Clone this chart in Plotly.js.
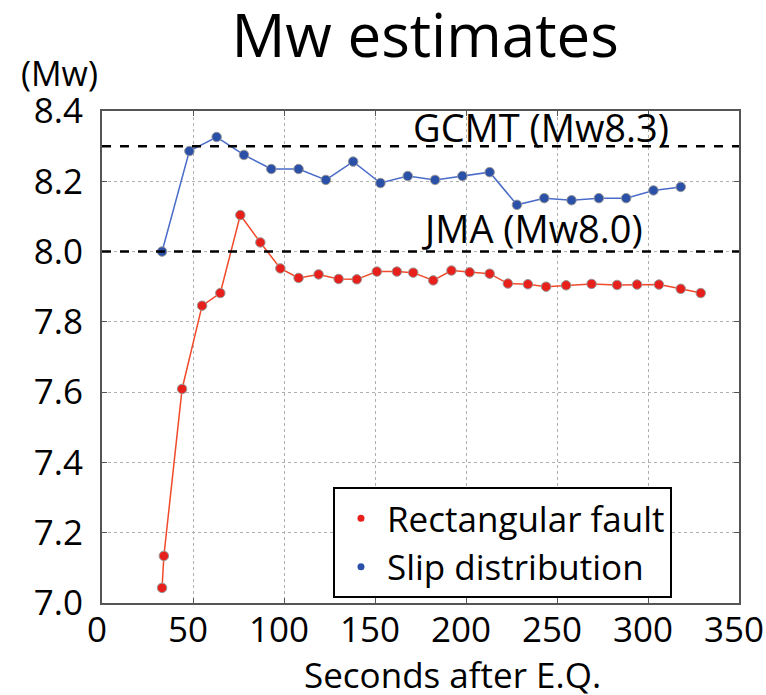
<!DOCTYPE html>
<html>
<head>
<meta charset="utf-8">
<script src="https://cdn.plot.ly/plotly-3.0.1.min.js"></script>
<style>html,body{margin:0;padding:0;background:#fff;}#chart{width:766px;height:695px;}</style>
</head>
<body>
<div id="chart"></div>
<script>
// Data
const rectSeconds = [33,34,44,55,65,76,87,98,108,119,130,140,151,162,171,182,192,202,213,223,234,244,255,269,283,294,306,318,329];
const rectMw = [7.043,7.134,7.609,7.846,7.882,8.104,8.026,7.952,7.925,7.935,7.922,7.921,7.943,7.943,7.940,7.918,7.946,7.941,7.937,7.909,7.907,7.900,7.904,7.908,7.905,7.906,7.906,7.894,7.882];
const slipSeconds = [33,48,63,78,93,108,123,138,153,168,183,198,213,228,243,258,273,288,303,318];
const slipMw = [8.000,8.286,8.326,8.275,8.235,8.235,8.204,8.256,8.195,8.215,8.204,8.215,8.226,8.133,8.152,8.146,8.152,8.152,8.174,8.184];
const refNames = ["GCMT (Mw8.3)", "JMA (Mw8.0)"];
const refValues = [8.3, 8.0];
const refLabelX = [241, 236];
const xTicks = [0,50,100,150,200,250,300,350];
const yTicks = [7.0,7.2,7.4,7.6,7.8,8.0,8.2,8.4];
const seriesNames = ["Rectangular fault", "Slip distribution"];
const xTitle = "Seconds after E.Q.";
const yUnit = "(Mw)";

const FONT = "Open Sans, Noto Sans, sans-serif";
const red = "#e8201c", redLine = "#f04a2a", blue = "#2a50a8", blueLine = "#4a6cc8";

const traces = [
  {x: rectSeconds, y: rectMw, mode: "lines+markers", showlegend: false, hoverinfo: "skip",
   line: {color: redLine, width: 1.5},
   marker: {color: red, size: 9.5, line: {color: "#999", width: 1}}},
  {x: slipSeconds, y: slipMw, mode: "lines+markers", showlegend: false, hoverinfo: "skip",
   line: {color: blueLine, width: 1.5},
   marker: {color: blue, size: 9.5, line: {color: "#999", width: 1}}},
  {x: [null], y: [null], mode: "markers", name: seriesNames[0], showlegend: true,
   marker: {color: red, size: 7}},
  {x: [null], y: [null], mode: "markers", name: seriesNames[1], showlegend: true,
   marker: {color: blue, size: 7}}
];

const shapes = refValues.map(v => ({type: "line", xref: "paper", x0: 0, x1: 1, yref: "y", y0: v, y1: v,
  line: {color: "#000", width: 2.5, dash: "dash"}}));

const annotations = refValues.map((v, i) => ({x: refLabelX[i], y: v, xref: "x", yref: "y",
  text: refNames[i], showarrow: false, xanchor: "center", yanchor: "middle",
  yshift: i === 0 ? 19 : 24, font: {family: FONT, size: 38, color: "#000"}}));
annotations.push({xref: "paper", yref: "paper", x: -0.066, y: 1.078,
  text: yUnit, showarrow: false, xanchor: "center", yanchor: "middle",
  font: {family: FONT, size: 34, color: "#000"}});
annotations.push({xref: "paper", yref: "paper", x: 0.5495, y: -0.146, text: xTitle, showarrow: false,
  xanchor: "center", yanchor: "middle", font: {family: FONT, size: 35, color: "#000"}});

const layout = {
  width: 766, height: 695,
  margin: {l: 102, r: 27, t: 111, b: 92, pad: 0},
  paper_bgcolor: "#fff", plot_bgcolor: "#fff",
  title: {text: "Mw estimates", x: 0.555, xanchor: "center", y: 0.948, yanchor: "middle",
          font: {family: FONT, size: 60, color: "#000"}},
  xaxis: {range: [0, 350], tickvals: xTicks, ticktext: xTicks.map(String),
          showgrid: true, gridcolor: "#b0b0b0", griddash: "dot", gridwidth: 1,
          showline: true, linecolor: "#555", linewidth: 2, mirror: "ticks",
          ticks: "inside", ticklen: 5, tickcolor: "#555", zeroline: false,
          ticklabelshift: -5, ticklabelstandoff: -5, ticklabeloverflow: "allow",
          tickfont: {family: FONT, size: 35, color: "#000"}},
  yaxis: {range: [7.0, 8.4], tickvals: yTicks, ticktext: yTicks.map(v => v.toFixed(1)),
          showgrid: true, gridcolor: "#b0b0b0", griddash: "dot", gridwidth: 1,
          showline: true, linecolor: "#555", linewidth: 2, mirror: "ticks",
          ticks: "inside", ticklen: 5, tickcolor: "#555", zeroline: false,
          ticklabelstandoff: 10,
          tickfont: {family: FONT, size: 35, color: "#000"}},
  legend: {x: 0.3626, y: 0.236, xanchor: "left", yanchor: "top", bgcolor: "#fff",
           bordercolor: "#000", borderwidth: 2, font: {family: FONT, size: 35, color: "#000"},
           itemwidth: 42},
  shapes: shapes,
  annotations: annotations
};

Plotly.newPlot("chart", traces, layout, {displayModeBar: false, staticPlot: true});
</script>
</body>
</html>
